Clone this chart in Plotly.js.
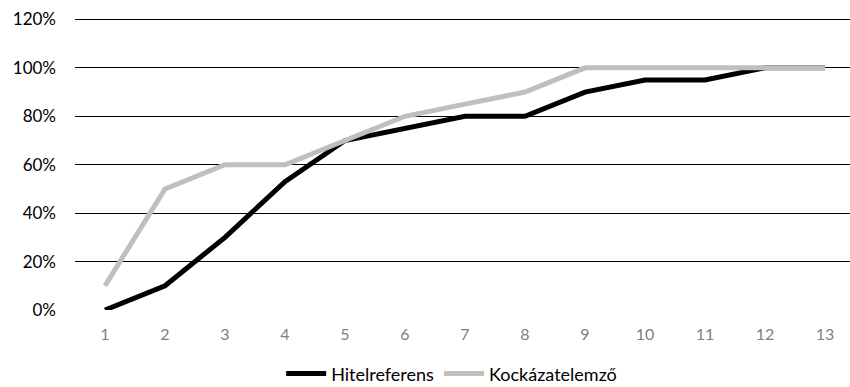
<!DOCTYPE html>
<html>
<head>
<meta charset="utf-8">
<script src="https://cdn.plot.ly/plotly-3.0.1.min.js"></script>
<style>html,body{margin:0;padding:0;background:#fff;}#chart{width:850px;height:387px;}</style>
</head>
<body>
<div id="chart"></div>
<script>
const categories = [1,2,3,4,5,6,7,8,9,10,11,12,13];
const hitelreferens = [0, 0.10, 0.30, 0.53, 0.70, 0.75, 0.80, 0.80, 0.90, 0.95, 0.95, 1.00, 1.00];
const kockazatelemzo = [0.10, 0.50, 0.60, 0.60, 0.70, 0.80, 0.85, 0.90, 1.00, 1.00, 1.00, 1.00, 1.00];
const seriesNames = ["Hitelreferens", "Kockázatelemző"];
const yTicks = [0, 0.2, 0.4, 0.6, 0.8, 1.0, 1.2];

const font = "Lato, Open Sans, sans-serif";
const traces = [
  {x: categories, y: hitelreferens, name: seriesNames[0], type: "scatter", mode: "lines",
   line: {color: "#000000", width: 5}},
  {x: categories, y: kockazatelemzo, name: seriesNames[1], type: "scatter", mode: "lines",
   line: {color: "#bfbfbf", width: 5}}
];
const layout = {
  width: 850, height: 387,
  margin: {l: 75, r: 0, t: 17, b: 77, autoexpand: false},
  paper_bgcolor: "#fff", plot_bgcolor: "#fff",
  font: {family: font, color: "#000"},
  showlegend: true,
  legend: {orientation: "h", x: 0.486, xanchor: "center", y: -0.218, yanchor: "middle",
           font: {size: 18, color: "#000", family: font}, traceorder: "normal", itemwidth: 40,
           bgcolor: "rgba(0,0,0,0)"},
  xaxis: {range: [0.5, 13.417], tickvals: categories, ticktext: categories.map(String),
          showgrid: false, zeroline: false, showline: false, ticks: "",
          tickfont: {size: 16, color: "#7f7f7f", family: font}, ticklabelstandoff: 13, fixedrange: true},
  yaxis: {range: [0, 1.21], tickvals: yTicks, tickformat: ".0%",
          showgrid: true, gridcolor: "#000", gridwidth: 1, zeroline: false, showline: false, ticks: "",
          tickfont: {size: 17, color: "#000", family: font}, ticklabelstandoff: 18, fixedrange: true}
};
Plotly.newPlot("chart", traces, layout, {staticPlot: true});
</script>
</body>
</html>
